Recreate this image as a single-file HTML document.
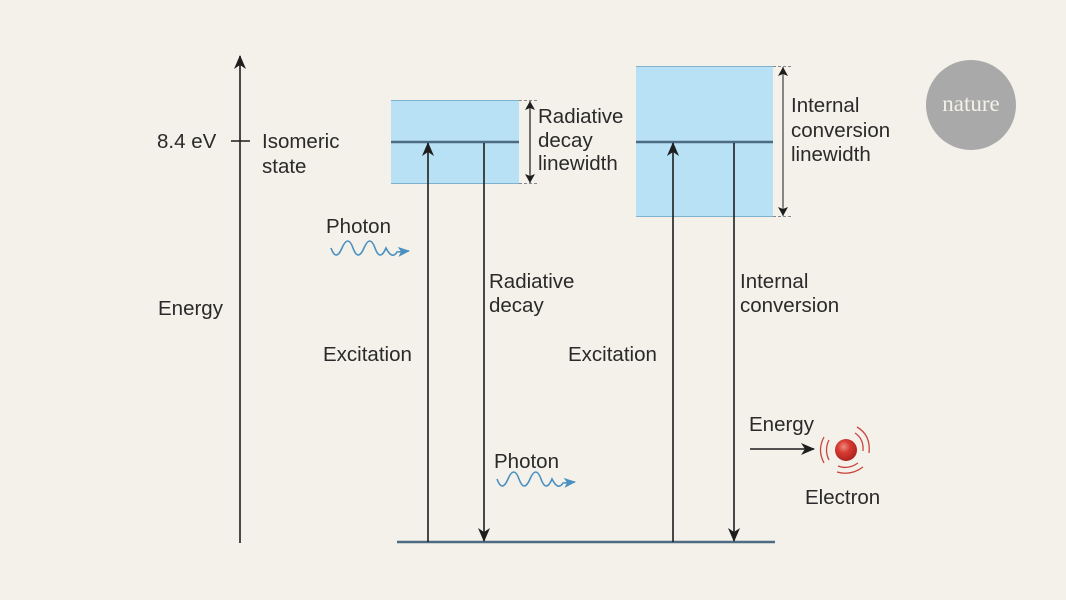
<!DOCTYPE html>
<html><head><meta charset="utf-8"><style>
html,body{margin:0;padding:0;background:#f4f1ea;}
svg{display:block}
text{font-family:"Liberation Sans",sans-serif;font-size:20.5px;fill:#2a2a2a}
</style></head><body>
<svg width="1066" height="600" viewBox="0 0 1066 600" xmlns="http://www.w3.org/2000/svg">
<defs>
<marker id="ah" markerWidth="14" markerHeight="12" refX="13" refY="6" orient="auto" markerUnits="userSpaceOnUse">
<path d="M0,0 L14,6 L0,12 L4,6 Z" fill="#1e1e1e"/></marker>
<marker id="ab" markerWidth="12" markerHeight="10" refX="11" refY="5" orient="auto" markerUnits="userSpaceOnUse">
<path d="M0,0 L12,5 L0,10 L3,5 Z" fill="#4a90c0"/></marker>
<marker id="as" markerWidth="9" markerHeight="10" refX="9" refY="5" orient="auto" markerUnits="userSpaceOnUse">
<path d="M0,0 L9,5 L0,10 L2,5 Z" fill="#1e1e1e"/></marker>
<radialGradient id="eg" cx="0.4" cy="0.35" r="0.7"><stop offset="0" stop-color="#f08a80"/><stop offset="0.4" stop-color="#d63b33"/><stop offset="1" stop-color="#a8201b"/></radialGradient>
</defs>
<rect width="1066" height="600" fill="#f4f1ea"/>
<rect x="391" y="100" width="128" height="83" fill="#b8e1f5"/>
<line x1="391" y1="100.5" x2="519" y2="100.5" stroke="#7fb2cf" stroke-width="1"/>
<line x1="391" y1="183.5" x2="519" y2="183.5" stroke="#7fb2cf" stroke-width="1"/>
<line x1="391" y1="142" x2="519" y2="142" stroke="#4d6b82" stroke-width="2.5"/>
<rect x="636" y="66" width="137" height="150" fill="#b8e1f5"/>
<line x1="636" y1="66.5" x2="773" y2="66.5" stroke="#7fb2cf" stroke-width="1"/>
<line x1="636" y1="216.5" x2="773" y2="216.5" stroke="#7fb2cf" stroke-width="1"/>
<line x1="636" y1="142" x2="773" y2="142" stroke="#4d6b82" stroke-width="2.5"/>
<g stroke="#888" stroke-width="1" stroke-dasharray="3,2">
<line x1="519" y1="100.5" x2="538" y2="100.5"/><line x1="519" y1="183.5" x2="538" y2="183.5"/>
<line x1="773" y1="66.5" x2="792" y2="66.5"/><line x1="773" y1="216.5" x2="792" y2="216.5"/>
</g>
<line x1="530" y1="174" x2="530" y2="101" stroke="#333" stroke-width="1.2" marker-end="url(#as)"/>
<line x1="530" y1="110" x2="530" y2="183" stroke="#333" stroke-width="1.2" marker-end="url(#as)"/>
<line x1="783" y1="207" x2="783" y2="67" stroke="#555" stroke-width="1.2" marker-end="url(#as)"/>
<line x1="783" y1="76" x2="783" y2="216" stroke="#555" stroke-width="1.2" marker-end="url(#as)"/>
<line x1="240" y1="543" x2="240" y2="56" stroke="#1e1e1e" stroke-width="1.6" marker-end="url(#ah)"/>
<line x1="231" y1="141" x2="250" y2="141" stroke="#1e1e1e" stroke-width="1.5"/>
<line x1="397" y1="542" x2="775" y2="542" stroke="#4d6b82" stroke-width="2.5"/>
<line x1="428" y1="542" x2="428" y2="143" stroke="#1e1e1e" stroke-width="1.6" marker-end="url(#ah)"/>
<line x1="484" y1="143" x2="484" y2="541" stroke="#1e1e1e" stroke-width="1.6" marker-end="url(#ah)"/>
<line x1="673" y1="542" x2="673" y2="143" stroke="#1e1e1e" stroke-width="1.6" marker-end="url(#ah)"/>
<line x1="734" y1="143" x2="734" y2="541" stroke="#1e1e1e" stroke-width="1.6" marker-end="url(#ah)"/>
<path d="M331,248 q5,14 11,0 t11,0 t11,0 t11,0 t11,0 q6,12 11,4 l12,-1" fill="none" stroke="#4a90c0" stroke-width="1.6" marker-end="url(#ab)"/>
<path d="M497,479 q5,14 11,0 t11,0 t11,0 t11,0 t11,0 q6,12 11,4 l12,-1" fill="none" stroke="#4a90c0" stroke-width="1.6" marker-end="url(#ab)"/>
<line x1="750" y1="449" x2="814" y2="449" stroke="#1e1e1e" stroke-width="1.6" marker-end="url(#ah)"/>
<circle cx="846" cy="450" r="11" fill="url(#eg)"/>
<g fill="none" stroke="#c9463e" stroke-width="1.3">
<path d="M829,440 q-5,10 0,20"/><path d="M824,437 q-7,13 0,26"/>
<path d="M855,433 q9,6 8,18"/><path d="M857,427 q14,8 12,26"/>
<path d="M838,466 q10,4 20,-3"/><path d="M837,472 q14,4 26,-5"/>
</g>
<circle cx="971" cy="105" r="45" fill="#a9a9a9"/>
<text x="971" y="111" text-anchor="middle" style="font-family:'Liberation Serif',serif;font-size:23px;fill:#f4f1ea">nature</text>
<text x="157" y="148">8.4 eV</text>
<text x="262" y="148">Isomeric</text>
<text x="262" y="173">state</text>
<text x="538" y="123">Radiative</text>
<text x="538" y="147">decay</text>
<text x="538" y="170">linewidth</text>
<text x="791" y="112">Internal</text>
<text x="791" y="137">conversion</text>
<text x="791" y="161">linewidth</text>
<text x="326" y="233">Photon</text>
<text x="158" y="315">Energy</text>
<text x="489" y="288">Radiative</text>
<text x="489" y="312">decay</text>
<text x="740" y="288">Internal</text>
<text x="740" y="312">conversion</text>
<text x="323" y="361">Excitation</text>
<text x="568" y="361">Excitation</text>
<text x="749" y="431">Energy</text>
<text x="494" y="468">Photon</text>
<text x="805" y="504">Electron</text>
</svg>
</body></html>
